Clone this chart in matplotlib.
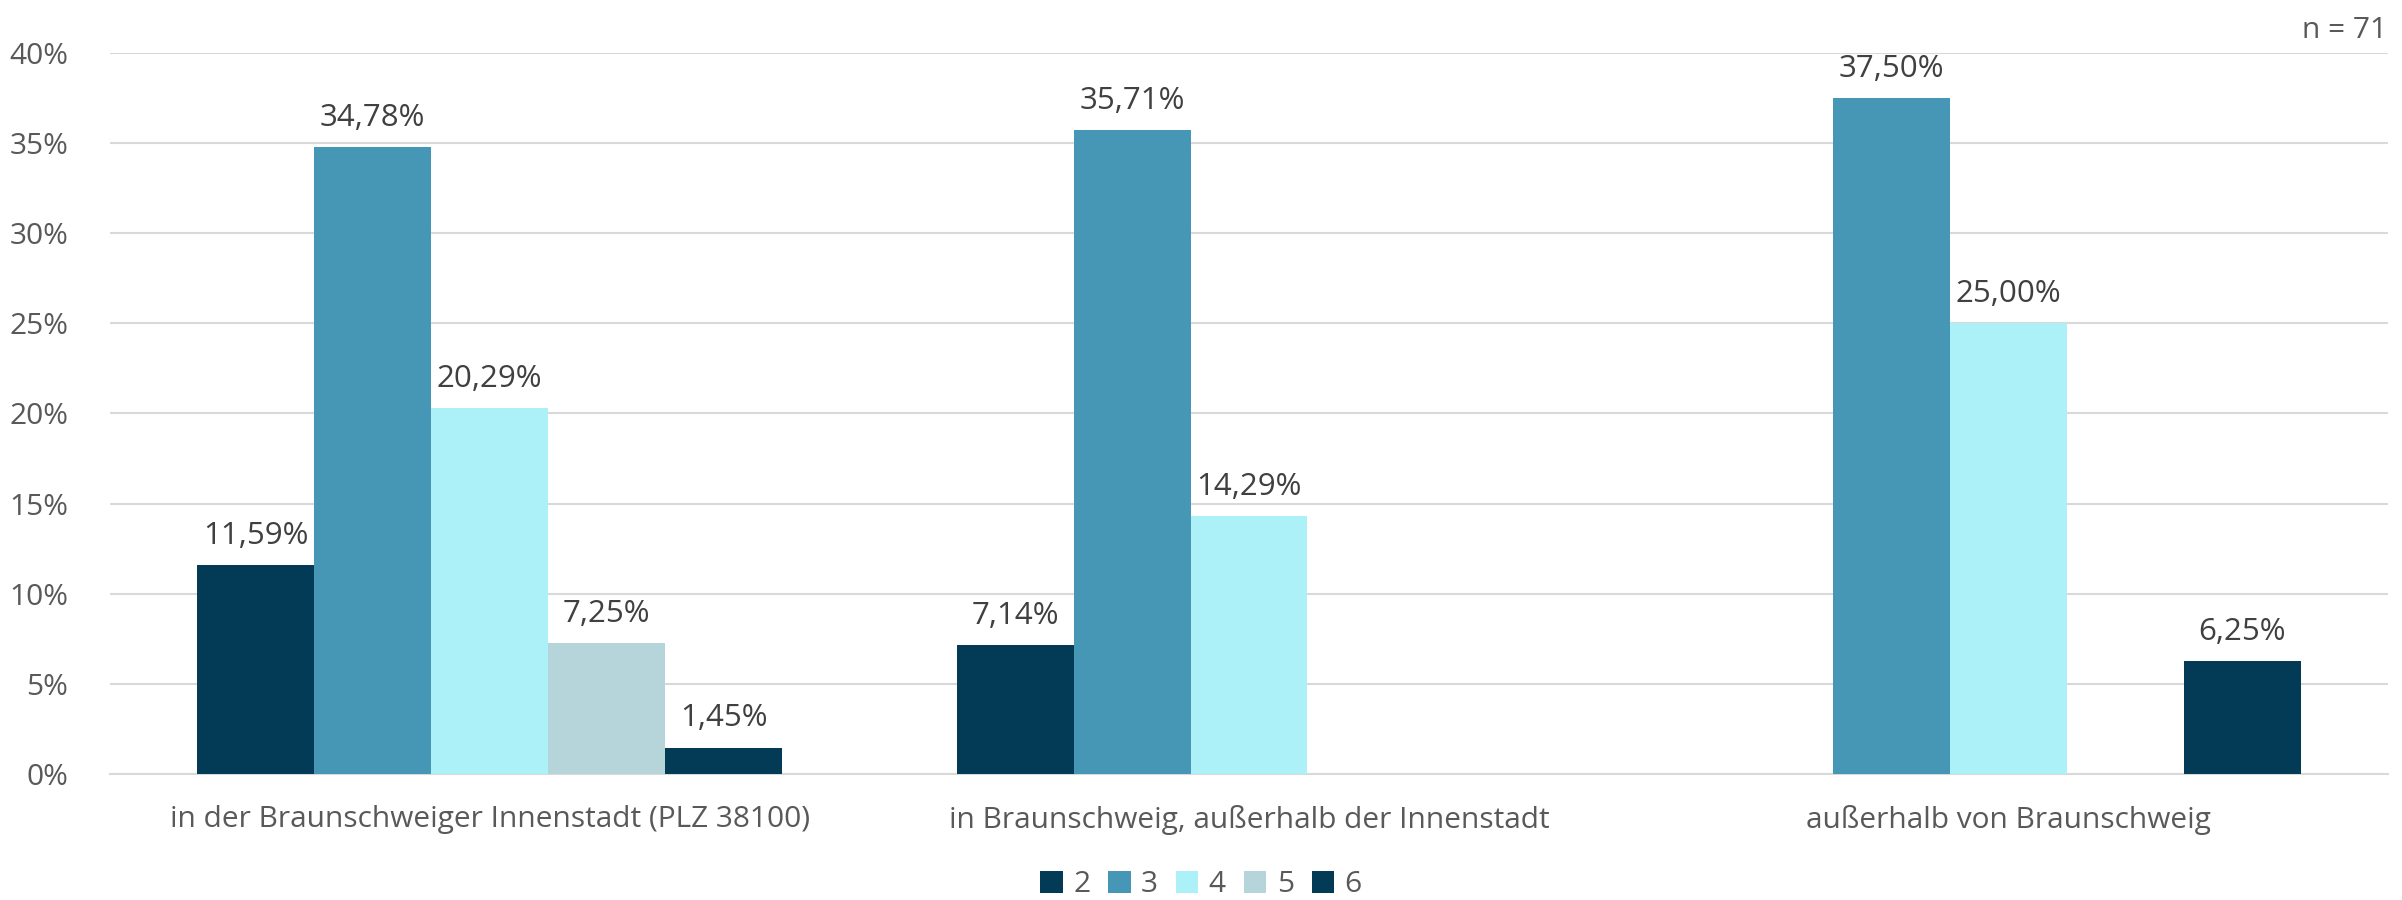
import numpy as np
import matplotlib
matplotlib.use("Agg")
import matplotlib.pyplot as plt

plt.rcParams['font.family'] = ['Open Sans', 'DejaVu Sans']

# data
categories = ["in der Braunschweiger Innenstadt (PLZ 38100)",
              "in Braunschweig, außerhalb der Innenstadt",
              "außerhalb von Braunschweig"]
series = ["2", "3", "4", "5", "6"]
s2 = [11.59, 7.14, np.nan]
s3 = [34.78, 35.71, 37.50]
s4 = [20.29, 14.29, 25.00]
s5 = [7.25, np.nan, np.nan]
s6 = [1.45, np.nan, 6.25]
colors = ["#033A56", "#4597B5", "#ACF1F7", "#B5D5DA", "#033A56"]

fig = plt.figure(figsize=(24.02, 9), dpi=100)
ax = fig.add_axes([110/2402, 1-774/900, (2388-110)/2402, (774-53)/900])

x = np.arange(len(categories))
bw = 0.154
all_series = [s2, s3, s4, s5, s6]
for i, (vals, col, name) in enumerate(zip(all_series, colors, series)):
    pos = x + (i - 2) * bw
    v = np.array(vals, dtype=float)
    ax.bar(pos, np.nan_to_num(v), width=bw, color=col, label=name, zorder=3)
    for p, val in zip(pos, v):
        if not np.isnan(val):
            ax.text(p, val + 0.8, f"{val:.2f}%".replace(".", ","), ha="center",
                    va="bottom", fontsize=22.5, color="#404040")

ax.set_xlim(-0.5, 2.5)
ax.set_ylim(0, 40)
ax.set_yticks(np.arange(0, 41, 5))
ax.set_yticklabels([f"{t}%" for t in range(0, 41, 5)])
ax.yaxis.grid(True, color="#D9D9D9", lw=1.5, zorder=0)
ax.set_xticks(x)
ax.set_xticklabels(categories)
ax.tick_params(axis="both", length=0, labelsize=21.5, colors="#595959")
ax.tick_params(axis="y", pad=30)
ax.tick_params(axis="x", pad=22)
for s in ["top", "right", "left"]:
    ax.spines[s].set_visible(False)
ax.spines["bottom"].set_color("#D9D9D9")
ax.spines["bottom"].set_linewidth(1.5)

fig.text(2345/2402, 1-30/900, "n = 71", ha="center", va="center", fontsize=21.5, color="#595959")

fig.legend(loc="center", bbox_to_anchor=(0.5, 1-885/900), ncol=5, frameon=False,
           fontsize=21.5, labelcolor="#595959", handlelength=0.75, handleheight=0.75,
           handletextpad=0.35, columnspacing=0.6)

fig.savefig("out.png", dpi=100)
